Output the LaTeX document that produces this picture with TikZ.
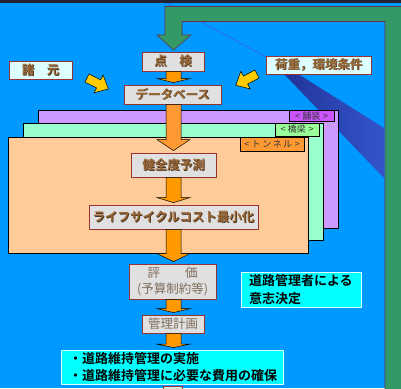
\documentclass[tikz,border=0pt]{standalone}
\usepackage{fontspec}
\newfontfamily\jp{Noto Sans CJK JP}[BoldFont={Noto Sans CJK JP Bold}]
\usetikzlibrary{calc}
\definecolor{bg}{HTML}{0099FF}
\definecolor{topband}{HTML}{222233}
\definecolor{fbgreen}{HTML}{339966}
\definecolor{fbborder}{HTML}{663344}
\definecolor{boxgray}{HTML}{E0E0E0}
\definecolor{boxborder}{HTML}{993333}
\definecolor{lightcyan}{HTML}{DDFFFF}
\definecolor{cyanbox}{HTML}{00FFFF}
\definecolor{txtbrown}{HTML}{996633}
\definecolor{txtshadow}{HTML}{4A3320}
\definecolor{txtgray}{HTML}{7F6E5E}
\definecolor{cardpurple}{HTML}{CC99FF}
\definecolor{cardgreen}{HTML}{99FFCC}
\definecolor{cardpeach}{HTML}{FFCC99}
\definecolor{lblpurple}{HTML}{CC55FF}
\definecolor{lblgreen}{HTML}{99FF99}
\definecolor{lblorange}{HTML}{FF9933}
\definecolor{arrA}{HTML}{FF9900}
\definecolor{arrB}{HTML}{FF9933}
\definecolor{yel}{HTML}{FFCC00}
\definecolor{wedgeA}{HTML}{223399}
\definecolor{wedgeB}{HTML}{3355CC}
\definecolor{beam}{HTML}{4455EE}
\newcommand\shd[1]{\makebox[0pt][l]{\hspace{0.8pt}\raisebox{-0.8pt}{\color{txtshadow}#1}}#1}
\newcommand\barrow[4]{%
  \filldraw[fill=#4, draw=black, line width=0.5pt]
    let \p1=(#1.south), \p2=(#2.north) in
    (166pt,\y1) -- (166pt,\y2+2pt+#3) -- (157pt,\y2+2pt+#3) -- (173.5pt,\y2+2pt)
    -- (190pt,\y2+2pt+#3) -- (181pt,\y2+2pt+#3) -- (181pt,\y1) -- cycle;}
\tikzset{
  gbox/.style={draw=boxborder, line width=0.8pt, fill=boxgray, inner sep=0pt,
    font=\jp\bfseries\fontsize{12.5}{14}\selectfont, text=txtbrown},
  cbox/.style={draw=boxborder, line width=0.8pt, fill=lightcyan, inner sep=0pt,
    font=\jp\bfseries\fontsize{12.5}{14}\selectfont, text=txtbrown},
  tbox/.style={draw=lightcyan, line width=0.8pt, fill=cyanbox, inner ysep=0pt,
    font=\jp\bfseries\fontsize{13}{17.5}\selectfont, text=black, align=left},
  card/.style={draw=black, line width=0.8pt},
  lbl/.style={draw=black, line width=0.6pt, inner sep=0pt,
    font=\jp\fontsize{9}{10}\selectfont, text=black!80},
  yarrow/.style={fill=yel, draw=black, line width=0.5pt}
}
\begin{document}
\begin{tikzpicture}[x=1pt,y=-1pt]
\useasboundingbox (0,0) rectangle (401,388);
\clip (0,0) rectangle (401,388);
\fill[bg] (0,0) rectangle (401,388);
\fill[topband] (0,0) rectangle (401,2.5);
% beam and wedge
\draw[beam, line width=0.5pt] (166,3) -- (268,58);
\shade[left color=wedgeA, right color=wedgeB] (284,74) -- (298,74) -- (384,128) -- (384,178) -- cycle;
% feedback arrow
\filldraw[fill=fbgreen, draw=fbborder, line width=0.6pt]
  (165,6.5) -- (402,6.5) -- (402,390) -- (385,390) -- (385,21.5) -- (182,21.5)
  -- (182,35) -- (191,35) -- (173.5,50) -- (157,35) -- (165,35) -- cycle;
% cards
\draw[card, fill=cardpurple] (38,110) rectangle (338,228);
\node[lbl, fill=lblpurple, minimum width=45pt, minimum height=11pt] (lp) at (311.5,116) {<\;舗装\;>};
\draw[card, fill=cardgreen] (23,123) rectangle (323,240);
\node[lbl, fill=lblgreen, minimum width=44pt, minimum height=13pt] (lg) at (297,129.5) {<\;橋梁\;>};
\draw[card, fill=cardpeach] (8,137) rectangle (308,253);
\node[lbl, fill=lblorange, minimum width=64pt, minimum height=14pt] (lo) at (272,144) {<\;ト\,ン\,ネ\,ル\;>};
% side inputs
\node[cbox, minimum width=63pt, minimum height=18pt] (shogen) at (40.5,70) {\shd{諸　元}};
\node[cbox, minimum width=105pt, minimum height=18pt] (kaju) at (318.5,65) {\shd{荷重，環境条件}};
\begin{scope}[shift={(87,78)}, rotate=-27]
\filldraw[yarrow] (0,-4.5) -- (13,-4.5) -- (13,-10) -- (24,0) -- (13,10) -- (13,4.5) -- (0,4.5) -- cycle;
\end{scope}
\begin{scope}[shift={(257,74)}, rotate=208]
\filldraw[yarrow] (0,-4.5) -- (13,-4.5) -- (13,-10) -- (24,0) -- (13,10) -- (13,4.5) -- (0,4.5) -- cycle;
\end{scope}
% main column
\node[gbox, minimum width=62pt, minimum height=19pt] (tenken) at (173,61.5) {\shd{点　検}};
\node[gbox, minimum width=97pt, minimum height=19pt] (db) at (172.5,94.5) {\shd{データベース}};
\node[gbox, minimum width=85pt, minimum height=24pt] (kenzen) at (173.5,165) {\shd{健全度予測}};
\node[gbox, minimum width=169pt, minimum height=24pt] (lcc) at (173.5,217) {\shd{ライフサイクルコスト最小化}};
\node[gbox, minimum width=87pt, minimum height=35pt, align=center, text=txtgray,
  font=\jp\fontsize{12.5}{16}\selectfont] (hyoka) at (172.5,281.5) {評　　価\\(予算制約等)};
\node[gbox, minimum width=62pt, minimum height=18pt, text=txtgray,
  font=\jp\fontsize{12.5}{14}\selectfont] (kanri) at (173,324) {管理計画};
\node[tbox, inner xsep=8pt, text width=206pt, minimum height=34pt] (jissi) at (172,367)
  {・道路維持管理の実施\\・道路維持管理に必要な費用の確保};
\node[tbox, inner xsep=8pt, text width=104pt, minimum height=35pt] (ishi) at (301,289.5)
  {道路管理者による\\意志決定};
\draw[draw=boxborder, line width=0.8pt, fill=boxgray] (163,386) rectangle (182,396);
% flow arrows
\barrow{tenken}{db}{4pt}{arrA}
\barrow{db}{kenzen}{11pt}{arrB}
\barrow{kenzen}{lcc}{5pt}{arrA}
\barrow{lcc}{hyoka}{8pt}{arrA}
\barrow{hyoka}{kanri}{4pt}{arrA}
\barrow{kanri}{jissi}{3.5pt}{arrA}
\end{tikzpicture}
\end{document}
